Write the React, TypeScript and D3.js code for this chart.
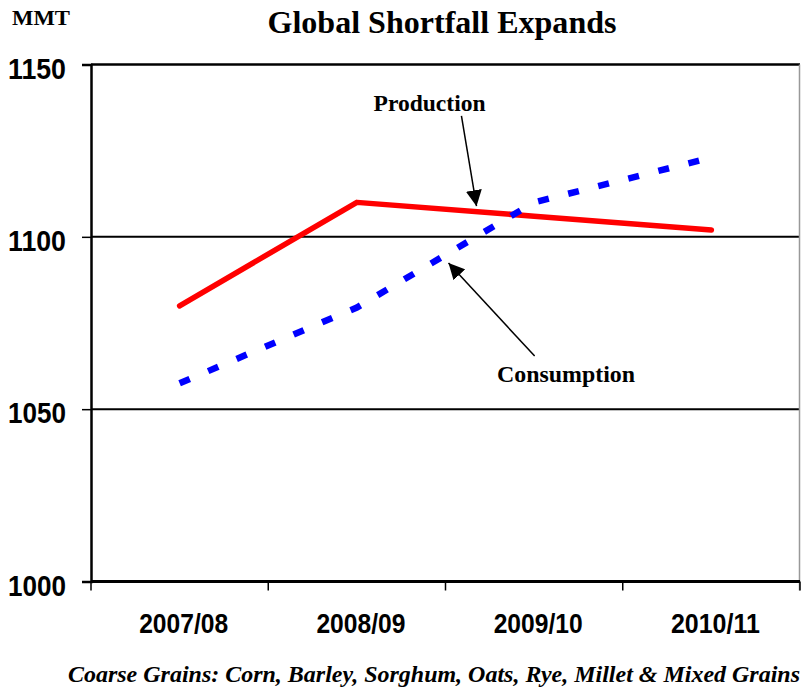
import React, { useEffect, useRef } from "react";
import * as d3 from "d3";

// category labels and series values (MMT)
const years = ["2007/08", "2008/09", "2009/10", "2010/11"];
const production = [1080, 1110, 1106, 1102];
const consumption = [1057.5, 1079.5, 1110, 1123];
const yTicks = [1000, 1050, 1100, 1150];
const gridValues = [1050, 1100];

// annotation anchors in data terms: [category index, value]
const prodLabel = { text: "Production", at: [1.41, 1136.5] };
const prodArrow = { from: [1.59, 1135.1], to: [1.675, 1108.9] };
const consLabel = { text: "Consumption", at: [2.18, 1057.9] };
const consArrow = { from: [2.003, 1065.4], to: [1.517, 1092.4] };

const W = 801;
const H = 689;

const App = () => {
  const svgRef = useRef<SVGSVGElement>(null);

  useEffect(() => {
    const svg = d3.select(svgRef.current);
    svg.selectAll("*").remove();

    const margin = { top: 64.5, right: 1, bottom: 107.5, left: 91 };
    const left = margin.left;
    const right = W - margin.right;
    const top = margin.top;
    const bottom = H - margin.bottom;

    const x = d3.scaleBand().domain(years).range([left, right]);
    const xi = d3.scaleLinear().domain([-0.5, years.length - 0.5]).range([left, right]);
    const y = d3.scaleLinear().domain([1000, 1150]).range([bottom, top]);

    const sans = "'Liberation Sans', Arial, sans-serif";
    const serif = "'Liberation Serif', 'Times New Roman', serif";

    // defs: arrow head
    svg
      .append("defs")
      .append("marker")
      .attr("id", "arrowHead")
      .attr("viewBox", "0 0 10 10")
      .attr("refX", 10)
      .attr("refY", 5)
      .attr("markerWidth", 16)
      .attr("markerHeight", 16)
      .attr("markerUnits", "userSpaceOnUse")
      .attr("orient", "auto")
      .append("path")
      .attr("d", "M0,0 L10,5 L0,10 Z")
      .attr("fill", "black");

    // grid lines
    svg
      .append("g")
      .selectAll("line")
      .data(gridValues)
      .enter()
      .append("line")
      .attr("x1", left)
      .attr("x2", right)
      .attr("y1", (d) => y(d))
      .attr("y2", (d) => y(d))
      .attr("stroke", "black")
      .attr("stroke-width", 2);

    // frame: top line, right grey border
    svg
      .append("line")
      .attr("x1", left)
      .attr("x2", right)
      .attr("y1", y(1150))
      .attr("y2", y(1150))
      .attr("stroke", "black")
      .attr("stroke-width", 2.5);
    svg
      .append("line")
      .attr("x1", right - 0.5)
      .attr("x2", right - 0.5)
      .attr("y1", y(1150))
      .attr("y2", bottom + 9)
      .attr("stroke", "#999")
      .attr("stroke-width", 1.5);

    // y axis
    const yAxis = svg
      .append("g")
      .attr("transform", `translate(${left},0)`)
      .call(d3.axisLeft(y).tickValues(yTicks).tickSize(9).tickFormat(d3.format("d")));
    yAxis.select(".domain").attr("stroke", "black").attr("stroke-width", 2.5);
    yAxis.selectAll(".tick line").attr("stroke", "black").attr("stroke-width", 1.5);
    yAxis
      .selectAll(".tick text")
      .attr("x", -25)
      .attr("dy", "0.45em")
      .attr("font-family", sans)
      .attr("font-weight", "bold")
      .attr("font-size", 30)
      .attr("fill", "black")
      .attr("textLength", 58)
      .attr("lengthAdjust", "spacingAndGlyphs");

    // x axis: ticks at band boundaries
    svg
      .append("line")
      .attr("x1", left)
      .attr("x2", right)
      .attr("y1", bottom)
      .attr("y2", bottom)
      .attr("stroke", "black")
      .attr("stroke-width", 3);
    const bounds = years.map((d) => x(d) as number).concat([right]);
    svg
      .append("g")
      .selectAll("line")
      .data(bounds)
      .enter()
      .append("line")
      .attr("x1", (d) => d)
      .attr("x2", (d) => d)
      .attr("y1", bottom)
      .attr("y2", bottom + 9)
      .attr("stroke", "black")
      .attr("stroke-width", 1.5);
    svg
      .append("g")
      .selectAll("text")
      .data(years)
      .enter()
      .append("text")
      .attr("x", (d) => (x(d) as number) + x.bandwidth() / 2 + 4)
      .attr("y", bottom + 51)
      .attr("text-anchor", "middle")
      .attr("font-family", sans)
      .attr("font-weight", "bold")
      .attr("font-size", 28)
      .attr("textLength", 89)
      .attr("lengthAdjust", "spacingAndGlyphs")
      .text((d) => d);

    const cx = (i: number) => (x(years[i]) as number) + x.bandwidth() / 2;
    const line = d3
      .line<number>()
      .x((_, i) => cx(i))
      .y((d) => y(d));

    // production (solid red)
    svg
      .append("path")
      .datum(production)
      .attr("d", line)
      .attr("fill", "none")
      .attr("stroke", "#ff0000")
      .attr("stroke-width", 5.5)
      .attr("stroke-linecap", "round")
      .attr("stroke-linejoin", "round");

    // consumption (dashed blue)
    svg
      .append("path")
      .datum(consumption)
      .attr("d", line)
      .attr("fill", "none")
      .attr("stroke", "#0000ff")
      .attr("stroke-width", 6.5)
      .attr("stroke-dasharray", "11,20");

    // annotations
    const arrows = [prodArrow, consArrow];
    svg
      .append("g")
      .selectAll("line")
      .data(arrows)
      .enter()
      .append("line")
      .attr("x1", (d) => xi(d.from[0]))
      .attr("y1", (d) => y(d.from[1]))
      .attr("x2", (d) => xi(d.to[0]))
      .attr("y2", (d) => y(d.to[1]))
      .attr("stroke", "black")
      .attr("stroke-width", 1.5)
      .attr("marker-end", "url(#arrowHead)");

    const labels = [
      { ...prodLabel, len: 112 },
      { ...consLabel, len: 138 },
    ];
    svg
      .append("g")
      .selectAll("text")
      .data(labels)
      .enter()
      .append("text")
      .attr("x", (d) => xi(d.at[0]))
      .attr("y", (d) => y(d.at[1]))
      .attr("text-anchor", "middle")
      .attr("font-family", serif)
      .attr("font-weight", "bold")
      .attr("font-size", 23)
      .attr("textLength", (d) => d.len)
      .attr("lengthAdjust", "spacingAndGlyphs")
      .text((d) => d.text);

    // title, unit, footnote
    svg
      .append("text")
      .attr("x", 442)
      .attr("y", 33)
      .attr("text-anchor", "middle")
      .attr("font-family", serif)
      .attr("font-weight", "bold")
      .attr("font-size", 31)
      .attr("textLength", 349)
      .attr("lengthAdjust", "spacingAndGlyphs")
      .text("Global Shortfall Expands");
    svg
      .append("text")
      .attr("x", 12)
      .attr("y", 25)
      .attr("font-family", serif)
      .attr("font-weight", "bold")
      .attr("font-size", 22)
      .attr("textLength", 58)
      .attr("lengthAdjust", "spacingAndGlyphs")
      .text("MMT");
    svg
      .append("text")
      .attr("x", 68)
      .attr("y", 682)
      .attr("font-family", serif)
      .attr("font-weight", "bold")
      .attr("font-style", "italic")
      .attr("font-size", 22.5)
      .attr("textLength", 732)
      .attr("lengthAdjust", "spacingAndGlyphs")
      .text("Coarse Grains: Corn, Barley, Sorghum, Oats, Rye, Millet & Mixed Grains");
  }, []);

  return (
    <svg
      ref={svgRef}
      width={W}
      height={H}
      style={{ position: "absolute", left: 0, top: 0, background: "white" }}
    ></svg>
  );
};

export default App;
